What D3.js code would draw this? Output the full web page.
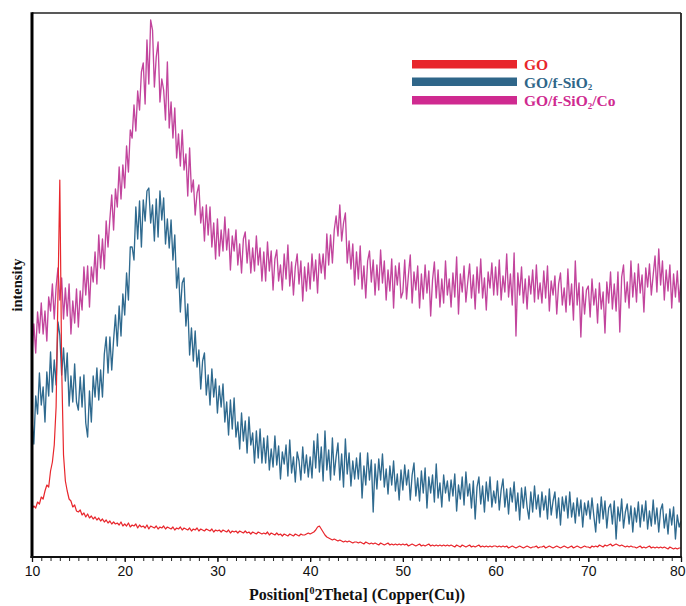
<!DOCTYPE html>
<html><head><meta charset="utf-8">
<script src="https://cdn.jsdelivr.net/npm/d3@7"></script>
<style>body{margin:0;background:#fff;}svg{display:block;}</style>
</head><body>
<svg id="chart" width="686" height="606"></svg>
<script>
// 2Theta grid: 10 to 80 deg, 0.2 deg step
const thetaStart = 10, thetaStep = 0.2;
const xTicks = [10, 20, 30, 40, 50, 60, 70, 80];
const seriesNames = ["GO", "GO/f-SiO2", "GO/f-SiO2/Co"];

// Intensity (a.u.)
const GO = [
48,51,49,55,53,60,58,66,72,70,86,95,112,150,262,377,190,102,76,66,58,56,50,52,46,
45,47,42,44,40,43,39,41,38,40,37,39,36,38,35,37,34,36,33,35,33,34,32,35,31,
33,31,34,30,32,31,33,29,32,30,31,29,32,28,31,30,29,31,28,30,29,31,28,30,29,
28,30,27,29,28,30,27,29,28,27,29,26,28,27,29,26,28,27,26,28,27,26,28,25,27,
26,27,25,27,26,25,27,24,26,25,26,24,26,25,24,26,24,25,23,25,24,23,25,24,23,
24,23,25,22,24,23,22,24,22,23,21,23,22,21,23,22,21,23,22,21,23,22,22,23,24,
23,24,25,27,30,31,28,25,22,20,19,18,17,18,17,16,17,16,15,16,15,16,15,14,15,
15,14,15,14,13,15,14,13,14,13,14,13,12,14,13,12,13,14,12,13,12,13,12,13,12,
13,12,13,11,12,13,12,11,12,13,11,12,11,12,13,11,12,11,12,11,12,11,12,11,12,
11,12,11,10,12,11,10,12,11,10,11,12,10,11,10,11,12,10,11,10,11,10,11,10,11,
11,10,11,10,11,10,11,9,10,11,10,9,10,11,10,9,10,11,10,9,10,10,11,9,10,
10,11,9,10,11,10,9,10,11,10,9,10,11,10,9,10,11,9,10,11,10,9,10,11,10,
10,9,11,10,11,10,12,11,10,12,11,12,13,11,12,13,12,11,12,11,10,11,10,11,10,
10,9,10,11,9,10,9,10,11,9,10,9,10,9,10,9,10,9,8,10,9,8,9,8,9,
9];

const GO_SiO2 = [
137,113,161,143,184,152,170,135,185,161,205,165,197,172,235,222,182,209,176,204,151,181,155,193,155,
147,180,150,182,134,120,166,135,181,160,189,157,187,160,203,220,184,220,187,217,242,211,251,221,263,
242,284,257,310,310,297,350,318,356,310,357,336,366,369,334,352,316,358,320,366,337,359,313,338,309,
337,297,322,269,289,245,274,279,231,253,202,229,196,226,190,207,168,196,204,162,182,152,188,160,178,
144,171,150,173,135,155,122,157,128,159,120,135,108,144,116,136,104,140,112,124,94,126,99,128,94,
119,94,121,87,108,90,121,92,111,78,105,93,112,81,117,84,100,75,105,96,77,110,84,102,80,
100,79,116,89,123,85,110,76,126,87,107,77,119,82,100,114,77,103,70,118,83,104,71,96,78,
99,78,104,59,91,72,104,77,97,45,93,68,98,77,103,70,88,63,91,72,96,66,83,57,87,
67,92,72,87,57,82,94,61,79,56,86,64,89,49,80,64,82,55,93,59,74,50,82,64,76,
56,77,61,83,46,72,58,80,52,85,61,73,49,76,38,70,80,53,71,45,75,56,80,50,66,
54,76,47,67,78,50,68,43,69,55,75,46,64,37,69,49,70,50,38,65,45,71,48,62,40,
65,47,61,38,68,42,56,65,39,59,32,60,46,61,39,65,40,54,34,59,41,57,30,54,42,
56,38,59,41,25,53,34,60,38,56,29,49,53,33,56,18,50,36,58,29,45,53,33,51,25,
49,35,55,30,52,36,56,28,46,31,57,33,49,25,47,53,29,43,23,48,32,50,18,42,30,
36];

const GO_SiO2_Co = [
203,233,204,245,224,254,223,246,216,260,246,273,238,270,289,257,279,238,269,241,273,223,256,234,268,
230,266,247,290,262,291,250,290,275,305,273,322,289,318,288,336,310,338,362,327,368,350,390,358,392,
369,411,385,427,419,452,426,466,447,485,494,453,517,473,537,527,470,500,515,455,478,467,437,495,429,
455,419,449,399,423,391,427,387,403,361,409,365,377,342,364,372,334,350,316,352,322,350,310,334,298,
338,301,327,306,340,307,328,287,321,306,327,292,313,284,318,325,294,317,284,309,286,321,292,309,276,
305,276,315,286,306,267,298,307,276,292,267,303,278,312,271,295,262,290,303,273,296,256,290,266,294,
268,303,276,297,264,303,284,303,278,323,292,322,294,327,341,321,352,316,334,344,294,316,288,313,272,
305,278,311,268,291,259,296,306,275,297,262,292,267,307,274,296,257,287,266,298,249,291,272,294,259,
265,297,258,282,302,254,285,267,291,249,283,258,292,264,286,241,277,295,259,287,250,278,254,296,262,
278,250,284,260,300,243,283,265,291,255,275,293,259,282,248,290,264,298,259,279,247,285,269,294,262,
290,262,297,257,281,265,303,260,283,252,304,221,284,262,290,254,278,248,281,263,287,255,292,258,274,
254,286,259,291,246,276,262,281,243,273,284,252,269,245,288,252,273,237,296,252,274,220,270,243,267,
271,240,278,252,268,234,274,248,265,224,275,254,285,248,273,246,285,225,280,292,255,275,249,296,260,
284,255,293,264,282,245,289,270,293,262,282,301,265,308,272,296,257,287,266,292,249,283,260,286,255,
278];

const colors = {GO: "#e8262c", SiO2: "#2f6a8f", Co: "#c2459d"};
const legendColors = ["#e8262c", "#2f6689", "#cf2a90"];

const svg = d3.select("#chart");
const L = 32, R = 681, T = 13, B = 557;
const x = d3.scaleLinear().domain([10, 80]).range([L, R]);
const y = d3.scaleLinear().domain([0, 544]).range([B, T]);

const theta = i => thetaStart + i * thetaStep;
const line = d3.line().x((d, i) => x(theta(i))).y(d => y(d));

svg.append("defs").append("clipPath").attr("id", "clip")
  .append("rect").attr("x", L).attr("y", T).attr("width", R - L).attr("height", B - T);

const g = svg.append("g").attr("clip-path", "url(#clip)");
g.append("path").datum(GO_SiO2).attr("d", line).attr("fill", "none")
  .attr("stroke", colors.SiO2).attr("stroke-width", 1.35).attr("stroke-linejoin", "round");
g.append("path").datum(GO_SiO2_Co).attr("d", line).attr("fill", "none")
  .attr("stroke", colors.Co).attr("stroke-width", 1.35).attr("stroke-linejoin", "round");
g.append("path").datum(GO).attr("d", line).attr("fill", "none")
  .attr("stroke", colors.GO).attr("stroke-width", 1.2).attr("stroke-linejoin", "round");

// frame
svg.append("line").attr("x1", L).attr("x2", R).attr("y1", T).attr("y2", T).attr("stroke", "#222").attr("stroke-width", 1.6);
svg.append("line").attr("x1", R).attr("x2", R).attr("y1", T).attr("y2", B).attr("stroke", "#222").attr("stroke-width", 1.8);
svg.append("line").attr("x1", L).attr("x2", L).attr("y1", T - 0.8).attr("y2", B + 1).attr("stroke", "#000").attr("stroke-width", 3);

// minor ticks
const minor = svg.append("g").attr("transform", `translate(0,${B})`)
  .call(d3.axisBottom(x).tickValues(d3.range(10, 81, 1)).tickSize(4).tickFormat(""));
minor.select(".domain").remove();
minor.selectAll("line").attr("stroke", "#222").attr("stroke-width", 1);

const major = svg.append("g").attr("transform", `translate(0,${B})`)
  .call(d3.axisBottom(x).tickValues(xTicks).tickSize(5).tickPadding(4).tickFormat(d3.format("d")));
major.select(".domain").remove();
major.selectAll("line").attr("stroke", "#111").attr("stroke-width", 1.3);
major.selectAll("text").attr("font-family", "Liberation Sans, Arial, sans-serif")
  .attr("font-size", 14).attr("fill", "#111");
// keep the last label inside the page
major.selectAll("text").filter(d => d === 80).attr("text-anchor", "end").attr("dx", 4);

svg.append("line").attr("x1", L - 1.5).attr("x2", R + 1).attr("y1", B).attr("y2", B).attr("stroke", "#111").attr("stroke-width", 2);

// axis titles
const xt = svg.append("text").attr("x", 357).attr("y", 600).attr("text-anchor", "middle")
  .attr("font-family", "Liberation Serif, Times New Roman, serif").attr("font-weight", "bold")
  .attr("font-size", 16).attr("fill", "#111");
xt.append("tspan").text("Position[");
xt.append("tspan").attr("font-size", 10).attr("dy", -6).text("0");
xt.append("tspan").attr("dy", 6).text("2Theta] (Copper(Cu))");

svg.append("text").attr("transform", "translate(22,285) rotate(-90)").attr("text-anchor", "middle")
  .attr("font-family", "Liberation Serif, Times New Roman, serif").attr("font-weight", "bold")
  .attr("font-size", 14.5).attr("fill", "#111").text("intensity");

// legend
const leg = svg.append("g");
const legY = [64.5, 82, 100.5];
seriesNames.forEach((name, i) => {
  leg.append("rect").attr("x", 412).attr("y", legY[i] - 4.5).attr("width", 105).attr("height", 8.5)
    .attr("fill", legendColors[i]);
  const t = leg.append("text").attr("x", 524).attr("y", legY[i] + 5.5)
    .attr("font-family", "Liberation Serif, Times New Roman, serif").attr("font-weight", "bold")
    .attr("font-size", 15.5).attr("fill", legendColors[i]);
  const parts = name.split("SiO2");
  if (parts.length === 1) { t.text(name); }
  else {
    t.append("tspan").text(parts[0] + "SiO");
    t.append("tspan").attr("font-size", 9).attr("dy", 2.5).text("2");
    if (parts[1]) t.append("tspan").attr("dy", -2.5).text(parts[1]);
  }
});
</script>
</body></html>
